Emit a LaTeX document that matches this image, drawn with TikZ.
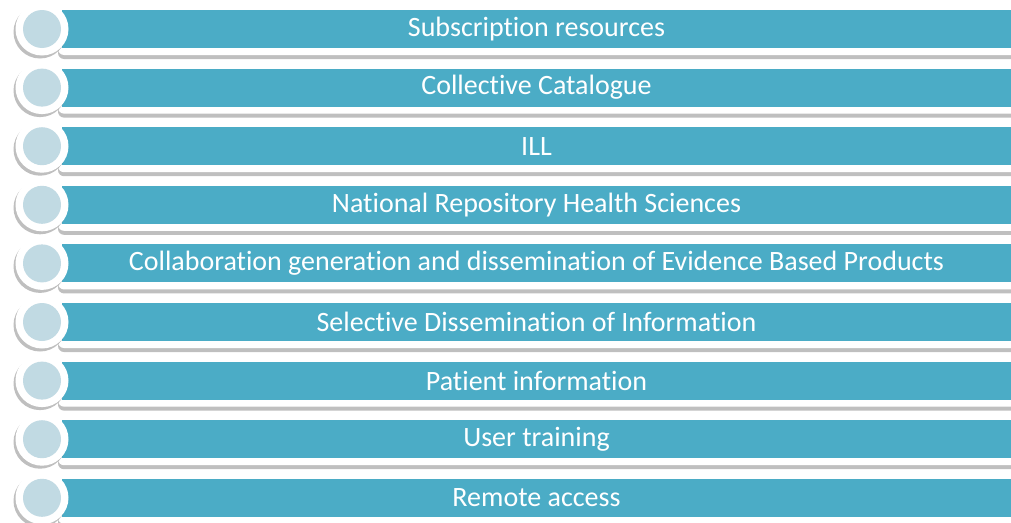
\documentclass[tikz,border=0pt]{standalone}
\usepackage{fontspec}
\setmainfont[Ligatures=NoCommon]{Carlito}
\usetikzlibrary{shadows}
\definecolor{teal5}{HTML}{4BACC6}
\definecolor{paleblue}{HTML}{C1DAE3}

\begin{document}
\begin{tikzpicture}[x=1pt,y=-1pt,
  band/.style={fill=white,rounded corners=6pt,minimum width=960pt,minimum height=52pt,inner sep=0pt,
    drop shadow={shadow xshift=0pt,shadow yshift=-4pt,fill=black,opacity=0.25}},
  bar/.style={fill=teal5,minimum width=949pt,minimum height=38pt,inner sep=0pt,text=white,
    font=\fontsize{28}{32}\selectfont},
  ring/.style={circle,fill=white,minimum size=53pt,inner sep=0pt,
    drop shadow={shadow xshift=-2pt,shadow yshift=-3pt,fill=black,opacity=0.25}},
  dot/.style={circle,fill=paleblue,minimum size=38pt,inner sep=0pt}]
 \clip (0,0) rectangle (1011,522);

 \node[band] (w1) at (538,29) {};
 \node[bar] (b1) at (536.5,29) {Subscription resources};
 \node[ring] (r1) at (42,29) {}; \node[dot] (d1) at (r1) {};

 \node[band] (w2) at (538,87.6) {};
 \node[bar] (b2) at (536.5,87.6) {Collective Catalogue};
 \node[ring] (r2) at (42,87.6) {}; \node[dot] (d2) at (r2) {};

 \node[band] (w3) at (538,146.2) {};
 \node[bar] (b3) at (536.5,146.2) {ILL};
 \node[ring] (r3) at (42,146.2) {}; \node[dot] (d3) at (r3) {};

 \node[band] (w4) at (538,204.8) {};
 \node[bar] (b4) at (536.5,204.8) {National Repository Health Sciences};
 \node[ring] (r4) at (42,204.8) {}; \node[dot] (d4) at (r4) {};

 \node[band] (w5) at (538,263.4) {};
 \node[bar] (b5) at (536.5,263.4) {Collaboration generation and dissemination of Evidence Based Products};
 \node[ring] (r5) at (42,263.4) {}; \node[dot] (d5) at (r5) {};

 \node[band] (w6) at (538,322) {};
 \node[bar] (b6) at (536.5,322) {Selective Dissemination of Information};
 \node[ring] (r6) at (42,322) {}; \node[dot] (d6) at (r6) {};

 \node[band] (w7) at (538,380.6) {};
 \node[bar] (b7) at (536.5,380.6) {Patient information};
 \node[ring] (r7) at (42,380.6) {}; \node[dot] (d7) at (r7) {};

 \node[band] (w8) at (538,439.2) {};
 \node[bar] (b8) at (536.5,439.2) {User training};
 \node[ring] (r8) at (42,439.2) {}; \node[dot] (d8) at (r8) {};

 \node[band] (w9) at (538,497.8) {};
 \node[bar] (b9) at (536.5,497.8) {Remote access};
 \node[ring] (r9) at (42,497.8) {}; \node[dot] (d9) at (r9) {};
\end{tikzpicture}
\end{document}
